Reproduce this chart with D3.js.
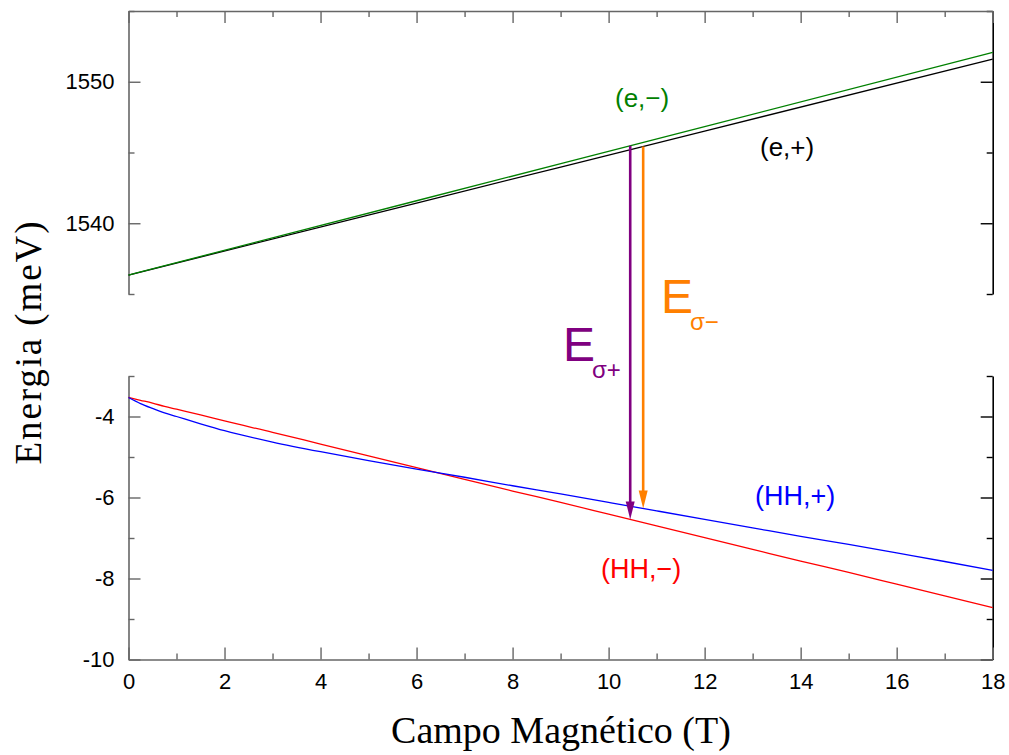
<!DOCTYPE html>
<html>
<head>
<meta charset="utf-8">
<script src="https://cdn.jsdelivr.net/npm/d3@7"></script>
<style>
    body { margin: 0; background: #fff; }
    svg { display: block; }
</style>
</head>
<body>
<script>
(function () {
    'use strict';

    // magnetic field (T) and level energies
    var fieldE = [0, 6, 12, 18];
    var eMinus = [1536.34, 1541.59, 1546.83, 1552.08];   // (e,-) green
    var ePlus = [1536.34, 1541.43, 1546.51, 1551.60];    // (e,+) black

    var fieldHH = [0, 0.25, 0.5, 0.75, 1, 1.5, 2, 3, 4, 5, 6, 7, 8, 9, 10, 11, 12, 13, 14, 15, 16, 17, 18];
    var hhPlus = [-3.53, -3.68, -3.80, -3.91, -4.00, -4.18, -4.35, -4.63, -4.87, -5.09, -5.30, -5.50,
        -5.71, -5.91, -6.12, -6.33, -6.54, -6.75, -6.96, -7.16, -7.37, -7.58, -7.80];
    var hhMinus = [-3.53, -3.60, -3.67, -3.75, -3.82, -3.96, -4.11, -4.39, -4.68, -4.97, -5.26, -5.55,
        -5.84, -6.12, -6.41, -6.70, -6.99, -7.28, -7.57, -7.85, -8.14, -8.43, -8.72];

    // optical transitions: field where each arrow is drawn
    var sigmaPlusField = 10.45;
    var sigmaMinusField = 10.72;

    var xMajor = [0, 2, 4, 6, 8, 10, 12, 14, 16, 18];
    var xMinor = [1, 3, 5, 7, 9, 11, 13, 15, 17];
    var topMajor = [1540, 1550];
    var topMinor = [1535, 1545, 1555];
    var botMajor = [-4, -6, -8, -10];
    var botMinor = [-3, -5, -7, -9];

    var width = 1009;
    var height = 755;

    var x = d3.scaleLinear().domain([0, 18]).range([128.5, 992.7]);
    var yTop = d3.scaleLinear().domain([1535, 1555]).range([294, 11]);
    var yBot = d3.scaleLinear().domain([-10, -3]).range([659.5, 376]);

    var svg = d3.select('body')
        .append('svg')
        .attr('width', width)
        .attr('height', height)
        ;

    var tickFont = 'Liberation Sans, Arial, sans-serif';
    var titleFont = 'Liberation Serif, Times New Roman, serif';

    function styleAxis(g, color) {
        g.select('.domain').attr('stroke', color).attr('stroke-width', 1.6);
        g.selectAll('.tick line').attr('stroke', color).attr('stroke-width', 1.4);
        g.selectAll('.tick text')
            .attr('font-family', tickFont)
            .attr('font-size', 22)
            .attr('fill', '#000')
            ;
        return g;
    }

    function addAxis(axis, tx, ty, color, keepDomain) {
        var g = svg.append('g')
            .attr('transform', 'translate(' + tx + ',' + ty + ')')
            .call(axis)
            ;
        styleAxis(g, color);
        if (!keepDomain) g.select('.domain').remove();
        return g;
    }

    // ---- top panel axes (no bottom line)
    addAxis(d3.axisLeft(yTop).tickValues(topMajor).tickSize(-12).tickSizeOuter(0)
        .tickPadding(14).tickFormat(d3.format('d')), x.range()[0], 0, '#666', true);
    addAxis(d3.axisLeft(yTop).tickValues(topMinor).tickSize(-6).tickFormat(''),
        x.range()[0], 0, '#666', false);
    addAxis(d3.axisRight(yTop).tickValues(topMajor).tickSize(-12).tickSizeOuter(0)
        .tickFormat(''), x.range()[1], 0, '#000', true);
    addAxis(d3.axisRight(yTop).tickValues(topMinor).tickSize(-6).tickFormat(''),
        x.range()[1], 0, '#000', false);
    addAxis(d3.axisTop(x).tickValues(xMajor).tickSize(-12).tickSizeOuter(0)
        .tickFormat(''), 0, yTop.range()[1], '#666', true);
    addAxis(d3.axisTop(x).tickValues(xMinor).tickSize(-6).tickFormat(''),
        0, yTop.range()[1], '#666', false);

    // ---- bottom panel axes (no top line)
    addAxis(d3.axisLeft(yBot).tickValues(botMajor).tickSize(-12).tickSizeOuter(0)
        .tickPadding(14).tickFormat(function (d) { return String(d); }),
        x.range()[0], 0, '#666', true);
    addAxis(d3.axisLeft(yBot).tickValues(botMinor).tickSize(-6).tickFormat(''),
        x.range()[0], 0, '#666', false);
    addAxis(d3.axisRight(yBot).tickValues(botMajor).tickSize(-12).tickSizeOuter(0)
        .tickFormat(''), x.range()[1], 0, '#000', true);
    addAxis(d3.axisRight(yBot).tickValues(botMinor).tickSize(-6).tickFormat(''),
        x.range()[1], 0, '#000', false);
    addAxis(d3.axisBottom(x).tickValues(xMajor).tickSize(-12).tickSizeOuter(0)
        .tickPadding(14).tickFormat(d3.format('d')), 0, yBot.range()[0], '#666', true);
    addAxis(d3.axisBottom(x).tickValues(xMinor).tickSize(-6).tickFormat(''),
        0, yBot.range()[0], '#666', false);

    // ---- curves
    function curve(xs, ys, yScale, color) {
        var line = d3.line()
            .x(function (d) { return x(d[0]); })
            .y(function (d) { return yScale(d[1]); })
            .curve(d3.curveMonotoneX)
            ;
        svg.append('path')
            .datum(d3.zip(xs, ys))
            .attr('d', line)
            .attr('fill', 'none')
            .attr('stroke', color)
            .attr('stroke-width', 1.3)
            ;
    }

    curve(fieldE, ePlus, yTop, '#000');
    curve(fieldE, eMinus, yTop, '#008000');
    curve(fieldHH, hhMinus, yBot, '#ff0000');
    curve(fieldHH, hhPlus, yBot, '#0000ff');

    function interp(xs, ys, v) {
        var i = d3.bisectRight(xs, v) - 1;
        i = Math.max(0, Math.min(xs.length - 2, i));
        var t = (v - xs[i]) / (xs[i + 1] - xs[i]);
        return ys[i] + t * (ys[i + 1] - ys[i]);
    }

    // ---- transition arrows
    var arrows = [
        { f: sigmaPlusField, from: interp(fieldE, eMinus, sigmaPlusField),
          to: interp(fieldHH, hhMinus, sigmaPlusField), color: '#800080' },
        { f: sigmaMinusField, from: interp(fieldE, ePlus, sigmaMinusField),
          to: interp(fieldHH, hhPlus, sigmaMinusField), color: '#ff8000' }
    ];
    var headLen = 18;
    var headHalf = 4.5;

    arrows.forEach(function (a) {
        var ax = x(a.f);
        var y0 = yTop(a.from);
        var y1 = yBot(a.to);
        svg.append('line')
            .attr('x1', ax).attr('x2', ax)
            .attr('y1', y0).attr('y2', y1 - headLen + 2)
            .attr('stroke', a.color)
            .attr('stroke-width', 2.6)
            ;
        svg.append('path')
            .attr('d', 'M' + (ax - headHalf) + ',' + (y1 - headLen) +
                'L' + (ax + headHalf) + ',' + (y1 - headLen) +
                'L' + ax + ',' + y1 + 'Z')
            .attr('fill', a.color)
            ;
    });

    // ---- labels
    function label(txt, lx, ly, color, size) {
        return svg.append('text')
            .attr('x', lx)
            .attr('y', ly)
            .attr('fill', color)
            .attr('font-family', tickFont)
            .attr('font-size', size)
            .text(txt)
            ;
    }

    label('(e,\u2212)', 615, 107, '#008000', 26);
    label('(e,+)', 760, 156, '#000', 26);
    label('(HH,+)', 755, 505, '#0000ff', 27);
    label('(HH,\u2212)', 601, 578, '#ff0000', 27);

    label('E', 563, 361, '#800080', 48);
    label('\u03c3+', 592, 378, '#800080', 24);
    label('E', 661, 313, '#ff8000', 48);
    label('\u03c3\u2212', 690, 330, '#ff8000', 24);

    // ---- axis titles
    svg.append('text')
        .attr('x', 561)
        .attr('y', 743)
        .attr('text-anchor', 'middle')
        .attr('font-family', titleFont)
        .attr('font-size', 38)
        .text('Campo Magn\u00e9tico (T)')
        ;

    svg.append('text')
        .attr('transform', 'translate(41,343) rotate(-90)')
        .attr('text-anchor', 'middle')
        .attr('font-family', titleFont)
        .attr('font-size', 37)
        .attr('textLength', 243)
        .attr('lengthAdjust', 'spacing')
        .text('Energia (meV)')
        ;
})();
</script>
</body>
</html>
